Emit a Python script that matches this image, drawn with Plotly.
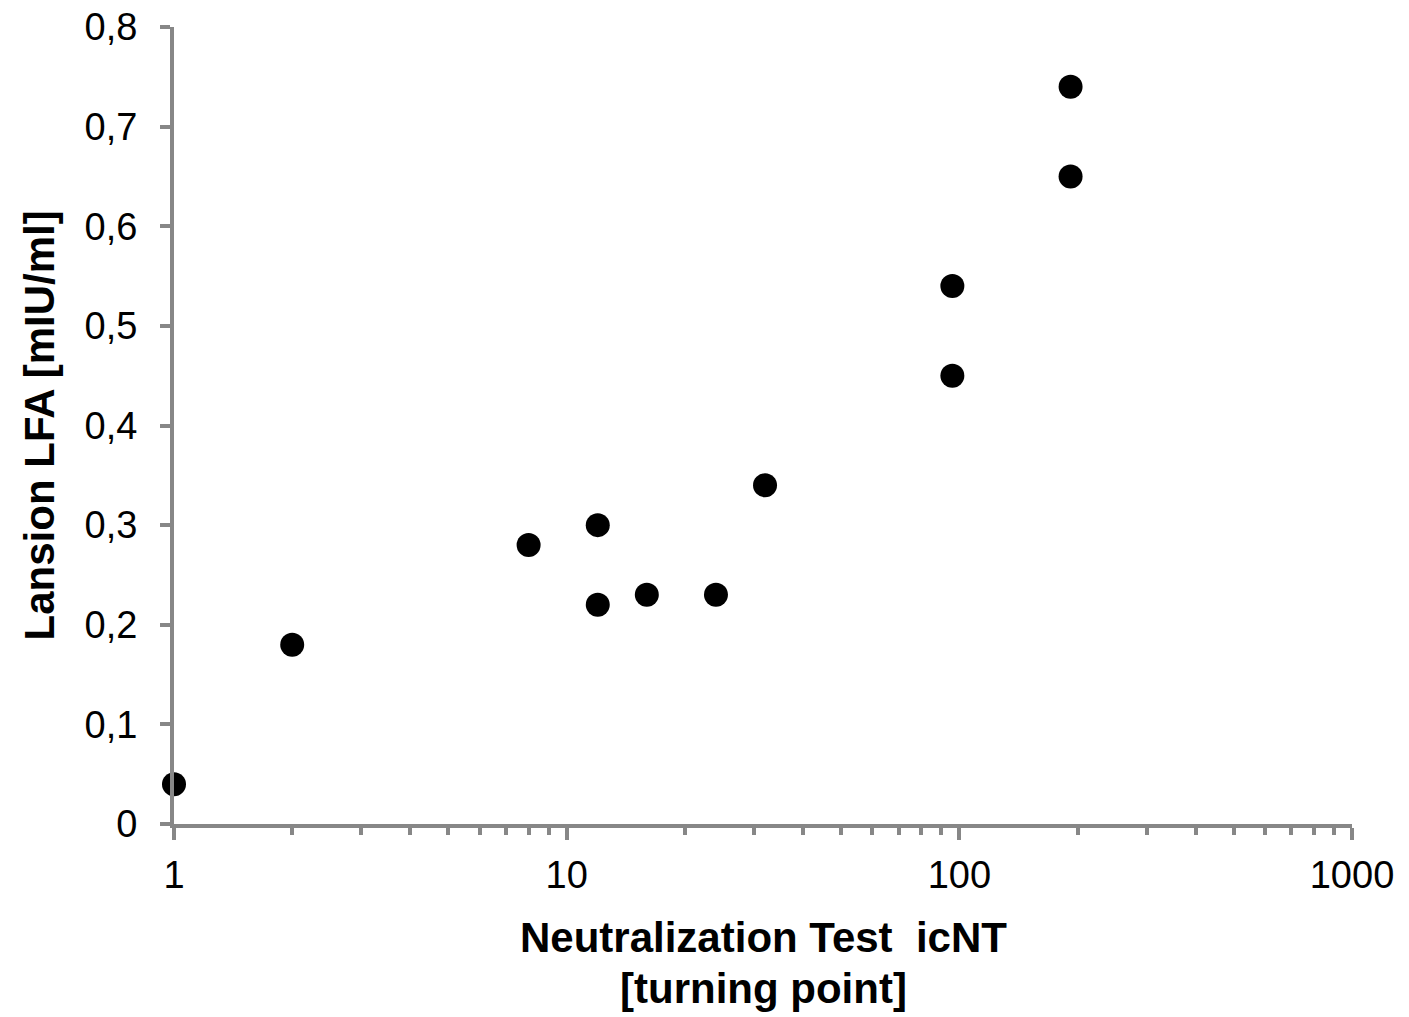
import plotly.graph_objects as go

x_vals = [1, 2, 8, 12, 12, 16, 24, 32, 96, 96, 192, 192]
y_vals = [0.04, 0.18, 0.28, 0.30, 0.22, 0.23, 0.23, 0.34, 0.54, 0.45, 0.74, 0.65]
y_tickvals = [0, 0.1, 0.2, 0.3, 0.4, 0.5, 0.6, 0.7, 0.8]
y_ticktext = ["0", "0,1", "0,2", "0,3", "0,4", "0,5", "0,6", "0,7", "0,8"]
x_tickvals = [1, 10, 100, 1000]
x_ticktext = ["1", "10", "100", "1000"]
x_title_lines = ["Neutralization Test  icNT", "[turning point]"]
y_title = "Lansion LFA [mIU/ml]"

AX = "#878787"
FONT = "Liberation Sans, Arial, sans-serif"
TFS = 42

fig = go.Figure(go.Scatter(
    x=x_vals, y=y_vals, mode="markers",
    marker=dict(color="black", size=24, line=dict(width=0)),
    cliponaxis=False, showlegend=False))

fig.update_layout(
    width=1409, height=1017,
    margin=dict(l=174, r=57, t=27, b=193, autoexpand=False),
    paper_bgcolor="white", plot_bgcolor="white",
    font=dict(family=FONT, color="black"),
    annotations=[
        dict(text="<b>%s</b>" % x_title_lines[0], xref="paper", yref="paper",
             x=0.5, y=-0.1430, xanchor="center", yanchor="middle",
             showarrow=False, font=dict(size=TFS, family=FONT)),
        dict(text="<b>%s</b>" % x_title_lines[1], xref="paper", yref="paper",
             x=0.5, y=-0.2070, xanchor="center", yanchor="middle",
             showarrow=False, font=dict(size=TFS, family=FONT)),
        dict(text="<b>%s</b>" % y_title, xref="paper", yref="paper",
             x=-0.1138, y=0.5, xanchor="center", yanchor="middle", textangle=-90,
             showarrow=False, font=dict(size=TFS, family=FONT)),
    ],
)
fig.update_xaxes(
    type="log", range=[0, 3], automargin=False,
    tickvals=x_tickvals, ticktext=x_ticktext,
    tickfont=dict(size=38, family=FONT),
    ticklabelstandoff=2,
    showgrid=False, zeroline=False,
    showline=True, linecolor=AX, linewidth=4,
    ticks="outside", ticklen=12, tickwidth=4, tickcolor=AX,
    minor=dict(ticks="outside", ticklen=7, tickwidth=4, tickcolor=AX, dtick="D1", showgrid=False),
)
fig.update_yaxes(
    range=[0, 0.8], automargin=False,
    tickvals=y_tickvals, ticktext=y_ticktext,
    tickfont=dict(size=38, family=FONT),
    ticklabelstandoff=15,
    showgrid=False, zeroline=False,
    showline=True, linecolor=AX, linewidth=4,
    ticks="outside", ticklen=10, tickwidth=4, tickcolor=AX,
)

fig.write_html("out.html")
